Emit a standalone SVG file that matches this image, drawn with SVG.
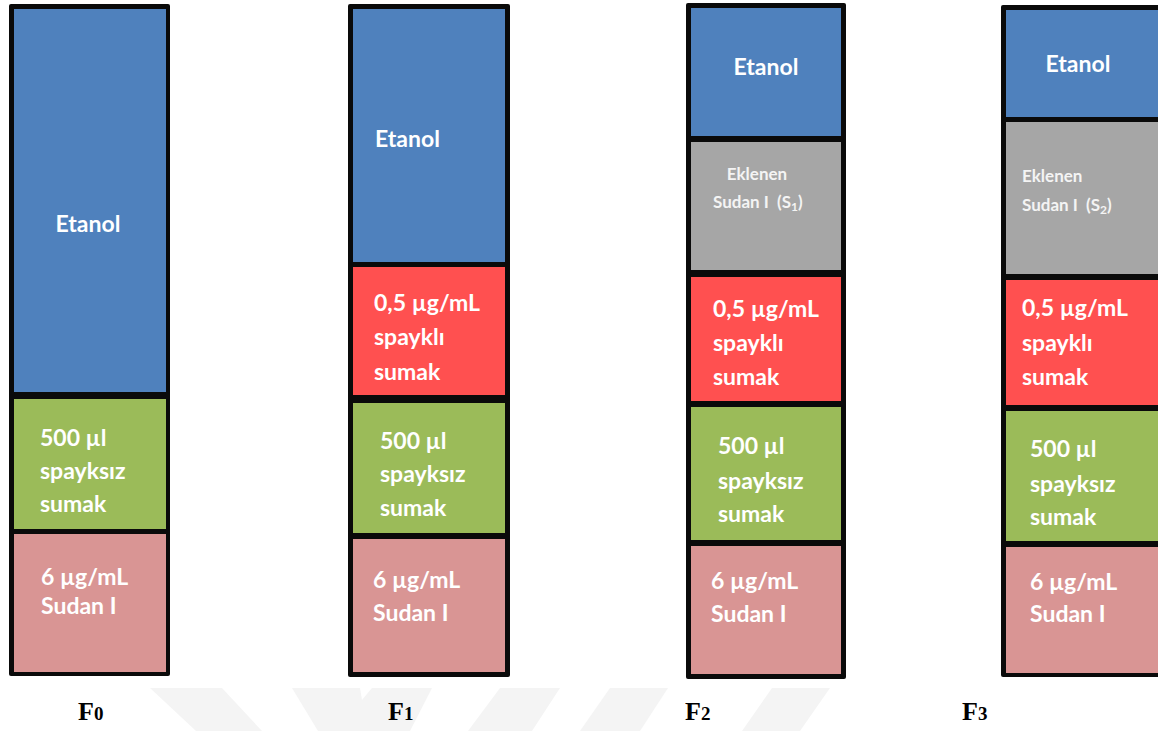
<svg xmlns="http://www.w3.org/2000/svg" width="1158" height="731" viewBox="0 0 1158 731">
<style>
.frame{fill:#0a0a0a}
.blue{fill:#4f81bd}
.green{fill:#9bbb59}
.red{fill:#ff5050}
.pink{fill:#d99594}
.gray{fill:#a6a6a6}
.t{font-family:Lato,"Open Sans","Liberation Sans",sans-serif;font-weight:bold;font-size:23px;fill:#ffffff}
.s{font-family:Lato,"Open Sans","Liberation Sans",sans-serif;font-weight:bold;font-size:17px;fill:#f4f4f4}
.lbl{font-family:"Liberation Serif","Times New Roman",serif;font-weight:bold;font-size:26px;fill:#000}
.sub{font-size:19px}
.wm{fill:#f4f4f4}
</style>
<rect width="1158" height="731" fill="#ffffff"/>
<g id="watermark">
<polygon class="wm" points="150,688 222,688 262,731 196,731"/>
<polygon class="wm" points="292,688 360,688 362,700 372,688 432,688 410,731 318,731"/>
<polygon class="wm" points="500,688 560,688 532,731 468,731"/>
<polygon class="wm" points="610,688 668,688 640,731 580,731"/>
<polygon class="wm" points="772,688 830,688 800,731 742,731"/>
</g>
<g id="F0">
<rect class="frame" x="9" y="4" width="161" height="672" rx="2"/>
<rect class="blue" x="14" y="9" width="152" height="383"/>
<rect class="green" x="14" y="399" width="152" height="130"/>
<rect class="pink" x="14" y="534" width="152" height="138"/>
<text class="t" x="88" y="232" text-anchor="middle">Etanol</text>
<text class="t" x="40" y="446">500 µl</text>
<text class="t" x="40" y="479">spayksız</text>
<text class="t" x="40" y="512">sumak</text>
<text class="t" x="41" y="585">6 µg/mL</text>
<text class="t" x="41" y="614">Sudan I</text>
</g>
<g id="F1">
<rect class="frame" x="348" y="4" width="162" height="673" rx="2"/>
<rect class="blue" x="353" y="9" width="152" height="253"/>
<rect class="red" x="353" y="267" width="152" height="128"/>
<rect class="green" x="353" y="403" width="152" height="130"/>
<rect class="pink" x="353" y="539" width="152" height="133"/>
<text class="t" x="375" y="147">Etanol</text>
<text class="t" x="374" y="311">0,5 µg/mL</text>
<text class="t" x="374" y="345">spayklı</text>
<text class="t" x="374" y="380">sumak</text>
<text class="t" x="380" y="449">500 µl</text>
<text class="t" x="380" y="482">spayksız</text>
<text class="t" x="380" y="516">sumak</text>
<text class="t" x="373" y="588">6 µg/mL</text>
<text class="t" x="373" y="621">Sudan I</text>
</g>
<g id="F2">
<rect class="frame" x="686" y="3" width="160" height="676" rx="2"/>
<rect class="blue" x="691" y="8" width="150" height="128"/>
<rect class="gray" x="691" y="142" width="150" height="128"/>
<rect class="red" x="691" y="277" width="150" height="124"/>
<rect class="green" x="691" y="407" width="150" height="133"/>
<rect class="pink" x="691" y="546" width="150" height="128"/>
<text class="t" x="766" y="75" text-anchor="middle">Etanol</text>
<text class="s" x="757" y="180" text-anchor="middle">Eklenen</text>
<text class="s" x="713" y="208" xml:space="preserve">Sudan I  (S<tspan font-size="12" dy="3">1</tspan><tspan dy="-3">)</tspan></text>
<text class="t" x="713" y="317">0,5 µg/mL</text>
<text class="t" x="713" y="351">spayklı</text>
<text class="t" x="713" y="385">sumak</text>
<text class="t" x="718" y="454">500 µl</text>
<text class="t" x="718" y="489">spayksız</text>
<text class="t" x="718" y="522">sumak</text>
<text class="t" x="711" y="589">6 µg/mL</text>
<text class="t" x="711" y="622">Sudan I</text>
</g>
<g id="F3">
<rect class="frame" x="1001" y="5" width="162" height="672" rx="2"/>
<rect class="blue" x="1006" y="10" width="152" height="107"/>
<rect class="gray" x="1006" y="122" width="152" height="152"/>
<rect class="red" x="1006" y="280" width="152" height="125"/>
<rect class="green" x="1006" y="411" width="152" height="130"/>
<rect class="pink" x="1006" y="547" width="152" height="126"/>
<text class="t" x="1078" y="72" text-anchor="middle">Etanol</text>
<text class="s" x="1022" y="182">Eklenen</text>
<text class="s" x="1022" y="211" xml:space="preserve">Sudan I  (S<tspan font-size="12" dy="3">2</tspan><tspan dy="-3">)</tspan></text>
<text class="t" x="1022" y="316">0,5 µg/mL</text>
<text class="t" x="1022" y="351">spayklı</text>
<text class="t" x="1022" y="385">sumak</text>
<text class="t" x="1030" y="457">500 µl</text>
<text class="t" x="1030" y="492">spayksız</text>
<text class="t" x="1030" y="525">sumak</text>
<text class="t" x="1030" y="590">6 µg/mL</text>
<text class="t" x="1030" y="622">Sudan I</text>
</g>
<g id="labels">
<text class="lbl" x="78" y="720">F<tspan class="sub">0</tspan></text>
<text class="lbl" x="388" y="720">F<tspan class="sub">1</tspan></text>
<text class="lbl" x="685" y="720">F<tspan class="sub">2</tspan></text>
<text class="lbl" x="962" y="720">F<tspan class="sub">3</tspan></text>
</g>
<g id="connectors"></g>
</svg>
